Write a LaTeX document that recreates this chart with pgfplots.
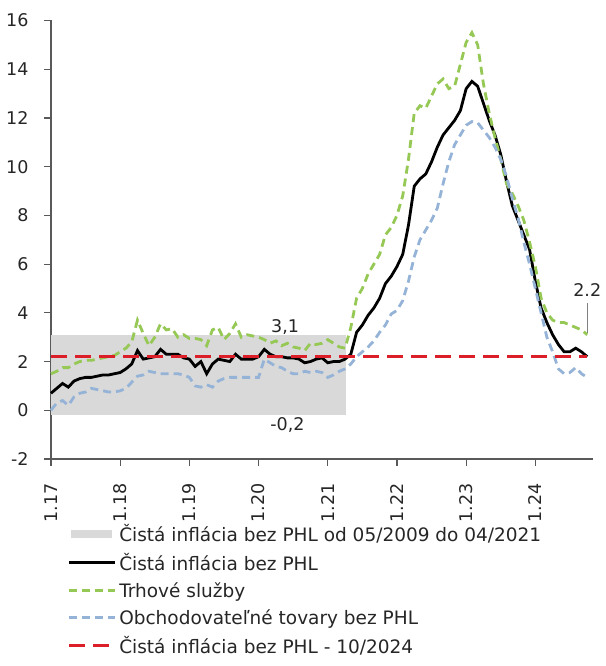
\documentclass[border=0pt]{standalone}
\usepackage{fontspec}
\setmainfont{DejaVu Sans}
\usepackage{pgfplots}
\usepackage{pgfplotstable}
\pgfplotsset{compat=1.18}
\definecolor{band}{RGB}{217,217,217}
\definecolor{serv}{RGB}{150,200,85}
\definecolor{goods}{RGB}{149,179,215}
\definecolor{refred}{RGB}{220,30,40}
\definecolor{axgray}{RGB}{89,89,89}
\pgfplotstableread{
i core serv goods
0 0.7 1.5 0.0
1 0.9 1.6 0.3
2 1.1 1.75 0.4
3 0.95 1.75 0.2
4 1.2 1.9 0.55
5 1.3 2.0 0.7
6 1.35 2.05 0.75
7 1.35 2.05 0.9
8 1.4 2.1 0.85
9 1.45 2.15 0.8
10 1.45 2.2 0.75
11 1.5 2.25 0.75
12 1.55 2.4 0.8
13 1.7 2.55 0.9
14 1.9 2.8 1.15
15 2.45 3.7 1.4
16 2.1 3.15 1.45
17 2.15 2.65 1.6
18 2.2 3.0 1.55
19 2.5 3.55 1.5
20 2.3 3.3 1.5
21 2.3 3.35 1.5
22 2.3 3.0 1.5
23 2.15 3.1 1.45
24 2.1 2.95 1.35
25 1.8 2.95 1.0
26 2.0 2.9 0.95
27 1.5 2.65 1.05
28 1.9 3.3 0.95
29 2.1 3.4 1.2
30 2.05 2.9 1.3
31 2.0 3.15 1.35
32 2.3 3.55 1.35
33 2.1 3.0 1.35
34 2.1 3.1 1.35
35 2.1 3.05 1.35
36 2.2 3.0 1.35
37 2.5 2.9 2.1
38 2.3 2.75 1.95
39 2.2 2.85 1.8
40 2.2 2.65 1.75
41 2.15 2.75 1.6
42 2.15 2.6 1.5
43 2.1 2.55 1.5
44 1.95 2.45 1.6
45 2.0 2.75 1.55
46 2.1 2.7 1.6
47 2.15 2.75 1.55
48 1.95 2.9 1.35
49 2.0 2.75 1.45
50 2.0 2.6 1.6
51 2.1 2.55 1.7
52 2.3 3.4 1.9
53 3.2 4.6 2.2
54 3.5 5.0 2.4
55 3.9 5.6 2.6
56 4.2 6.0 2.85
57 4.6 6.4 3.2
58 5.2 7.2 3.5
59 5.5 7.5 3.95
60 5.9 8.0 4.1
61 6.4 8.8 4.5
62 7.6 10.3 5.3
63 9.2 12.2 6.3
64 9.5 12.5 7.0
65 9.7 12.4 7.4
66 10.2 12.9 7.8
67 10.8 13.4 8.3
68 11.3 13.6 9.3
69 11.6 13.2 10.2
70 11.9 13.3 10.9
71 12.3 14.2 11.3
72 13.2 15.1 11.7
73 13.5 15.5 11.85
74 13.3 15.0 11.8
75 12.6 13.4 11.5
76 11.9 12.2 11.2
77 11.3 11.2 10.8
78 10.5 10.3 10.3
79 9.4 9.3 9.6
80 8.4 8.9 8.7
81 7.8 8.4 7.9
82 7.2 7.8 6.9
83 6.6 6.9 6.0
84 5.3 5.9 5.0
85 4.2 4.6 4.0
86 3.6 4.0 3.0
87 3.1 3.7 2.4
88 2.7 3.6 1.7
89 2.4 3.6 1.5
90 2.4 3.5 1.55
91 2.55 3.4 1.75
92 2.4 3.3 1.5
93 2.2 3.1 1.35
}\datatable
\begin{document}
\begin{tikzpicture}
\path[use as bounding box] (0,0) rectangle (605pt,666pt);
\begin{axis}[
  at={(51pt,207pt)}, anchor=south west,
  scale only axis, width=542pt, height=438.5pt,
  xmin=0, xmax=94, ymin=-2, ymax=16,
  clip=false,
  axis lines*=left,
  axis line style={axgray, line width=1.2pt},
  tick style={axgray, line width=1.2pt},
  tick align=outside, major tick length=7pt,
  xtick={0,12,24,36,48,60,72,84},
  xticklabels={1.17,1.18,1.19,1.20,1.21,1.22,1.23,1.24},
  ytick={-2,0,2,4,6,8,10,12,14,16},
  /pgf/number format/assume math mode=true,
  tick label style={font=\fontsize{17.5}{20}\selectfont, text=black!85},
  x tick label style={rotate=90, anchor=east},
  xticklabel shift=14pt,
  yticklabel shift=12pt,
  legend style={at={(axis description cs:0.030,-0.144)}, anchor=north west,
    draw=none, fill=none, font=\fontsize{18.5}{21}\selectfont,
    row sep=6.5pt, column sep=1pt, inner sep=0pt, text=black!85},
  legend cell align=left,
  legend image code/.code={\draw[#1] (0pt,0pt) -- (46pt,0pt);},
]
\addplot[fill=band, draw=none,
  legend image code/.code={\fill[band] (2pt,-4pt) rectangle (43pt,4pt);}]
  coordinates {(0,-0.2) (51.16,-0.2) (51.16,3.1) (0,3.1)} -- cycle;
\addlegendentry{Čistá inflácia bez PHL od 05/2009 do 04/2021}
\addplot[black, line width=2.8pt] table[x=i, y=core] {\datatable};
\addlegendentry{Čistá inflácia bez PHL}
\addplot[serv, line width=2.8pt, dash pattern=on 8pt off 5pt] table[x=i, y=serv] {\datatable};
\addlegendentry{Trhové služby}
\addplot[goods, line width=2.8pt, dash pattern=on 8pt off 5pt] table[x=i, y=goods] {\datatable};
\addlegendentry{Obchodovateľné tovary bez PHL}
\addplot[refred, line width=2.4pt, dash pattern=on 16pt off 8pt] coordinates {(0,2.2) (93,2.2)};
\addlegendentry{Čistá inflácia bez PHL - 10/2024}
\node[anchor=base, font=\fontsize{17.5}{20}\selectfont, text=black!85] at (axis cs:40.6,3.2) {3,1};
\node[anchor=base, font=\fontsize{17.5}{20}\selectfont, text=black!85] at (axis cs:41,-0.82) {-0,2};
\node[anchor=base, font=\fontsize{17.5}{20}\selectfont, text=black!85] at (axis cs:93,4.69) {2.2};
\draw[gray, line width=0.8pt] (axis cs:93,4.4) -- (axis cs:93,3.17);
\end{axis}
\end{tikzpicture}
\end{document}
